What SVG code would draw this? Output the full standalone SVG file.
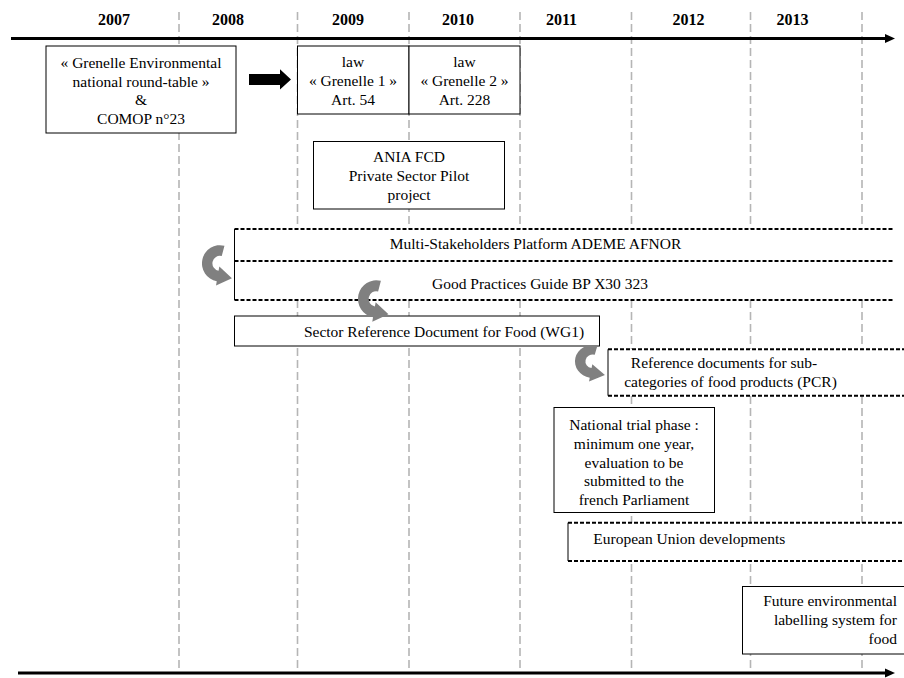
<svg xmlns="http://www.w3.org/2000/svg" xmlns:xlink="http://www.w3.org/1999/xlink" width="904" height="678" viewBox="0 0 904 678">
<style>
.t{font-family:'Liberation Serif','Times New Roman',Times,serif;font-size:15.5px;fill:#000;text-anchor:middle}
.yr{font-weight:bold;font-size:16px}
.l{text-anchor:start}
.r{text-anchor:end}
.box{fill:#fff;stroke:#000;stroke-width:1}
.wf{fill:#fff;stroke:none}
.dash{fill:none;stroke:#000;stroke-width:2;stroke-dasharray:4 2}
.solid{fill:none;stroke:#000;stroke-width:1}
.grid{fill:none;stroke:#b5b5b5;stroke-width:1.6;stroke-dasharray:8 4}
.axis{fill:none;stroke:#000;stroke-width:3}
.curv{fill:#808080}
</style>
<defs>
<path id="curved" d="M21.4,2.58 A17,17 0 1 0 14.05,35.74 L13.35,39.7 L28.5,33 L16.5,22 L15.78,25.89 A7,7 0 1 1 18.8,12.24 Z"/>
</defs>
<rect width="904" height="678" fill="#fff"/>

<g id="timeline">
<g id="gridlines">
<line class="grid" x1="179" y1="12" x2="179" y2="672"/>
<line class="grid" x1="297.5" y1="12" x2="297.5" y2="672"/>
<line class="grid" x1="409" y1="12" x2="409" y2="672"/>
<line class="grid" x1="520" y1="12" x2="520" y2="672"/>
<line class="grid" x1="631.5" y1="12" x2="631.5" y2="672"/>
<line class="grid" x1="750.5" y1="12" x2="750.5" y2="672"/>
<line class="grid" x1="862" y1="12" x2="862" y2="672"/>
</g>
<g id="years">
<text class="t yr" x="114" y="24.5">2007</text>
<text class="t yr" x="228" y="24.5">2008</text>
<text class="t yr" x="348" y="24.5">2009</text>
<text class="t yr" x="458" y="24.5">2010</text>
<text class="t yr" x="561.5" y="24.5">2011</text>
<text class="t yr" x="688.5" y="24.5">2012</text>
<text class="t yr" x="792.5" y="24.5">2013</text>
</g>
<g id="axis-top">
<line class="axis" x1="11" y1="38.5" x2="886" y2="38.5"/>
<polygon points="885,34 895,38.5 885,43" fill="#000"/>
</g>
<g id="axis-bottom">
<line class="axis" x1="18" y1="673" x2="886" y2="673"/>
<polygon points="885,668.5 895,673 885,677.5" fill="#000"/>
</g>
</g>

<g id="grenelle">
<rect class="box" x="46" y="46" width="190" height="87"/>
<text class="t" x="141" y="68">« Grenelle Environmental</text>
<text class="t" x="141" y="86.7">national round-table »</text>
<text class="t" x="141" y="105.4">&amp;</text>
<text class="t" x="141" y="124">COMOP n°23</text>
</g>

<g id="law-grenelle1">
<rect class="box" x="297.5" y="46" width="111.5" height="68"/>
<text class="t" x="353" y="67">law</text>
<text class="t" x="353" y="86">« Grenelle 1 »</text>
<text class="t" x="353" y="105">Art. 54</text>
</g>

<g id="law-grenelle2">
<rect class="box" x="409" y="46" width="111" height="68"/>
<text class="t" x="464.5" y="67">law</text>
<text class="t" x="464.5" y="86">« Grenelle 2 »</text>
<text class="t" x="464.5" y="105">Art. 228</text>
</g>

<g id="ania">
<rect class="box" x="313.5" y="141.5" width="191" height="67.5"/>
<text class="t" x="409" y="162.3">ANIA FCD</text>
<text class="t" x="409" y="181">Private Sector Pilot</text>
<text class="t" x="409" y="200">project</text>
</g>

<g id="platform">
<rect class="wf" x="234.5" y="229" width="659" height="32"/>
<line class="dash" x1="234.5" y1="229" x2="893" y2="229"/>
<line class="solid" x1="234.5" y1="229" x2="234.5" y2="261"/>
<text class="t" x="535.5" y="249">Multi-Stakeholders Platform ADEME AFNOR</text>
</g>

<g id="bp-guide">
<rect class="wf" x="234.5" y="261" width="659" height="39"/>
<line class="dash" x1="234.5" y1="261" x2="893" y2="261"/>
<line class="dash" x1="234.5" y1="300" x2="893" y2="300"/>
<line class="solid" x1="234.5" y1="261" x2="234.5" y2="300"/>
<text class="t" x="540" y="289.3">Good Practices Guide BP X30 323</text>
</g>

<g id="sector-ref">
<rect class="box" x="234.5" y="316" width="365" height="30"/>
<text class="t" x="444" y="336.5">Sector Reference Document for Food (WG1)</text>
</g>

<g id="pcr">
<rect class="wf" x="608" y="349" width="296" height="47"/>
<line class="dash" x1="608" y1="349.3" x2="904" y2="349.3"/>
<line class="dash" x1="608" y1="395.7" x2="904" y2="395.7"/>
<line class="solid" x1="608" y1="349.3" x2="608" y2="395.7"/>
<text class="t" x="724" y="368">Reference documents for sub-</text>
<text class="t" x="730.5" y="387">categories of food products (PCR)</text>
</g>

<g id="trial">
<rect class="box" x="554" y="407.5" width="160.5" height="105"/>
<text class="t" x="634" y="430">National trial phase :</text>
<text class="t" x="634" y="449">minimum one year,</text>
<text class="t" x="634" y="467.5">evaluation to be</text>
<text class="t" x="634" y="486">submitted to the</text>
<text class="t" x="634" y="504.5">french Parliament</text>
</g>

<g id="eu">
<rect class="wf" x="568" y="523" width="336" height="38"/>
<line class="dash" x1="568" y1="522.7" x2="904" y2="522.7"/>
<line class="dash" x1="568" y1="561" x2="904" y2="561"/>
<line class="solid" x1="568" y1="522.7" x2="568" y2="561"/>
<text class="t l" x="593.3" y="544.3">European Union developments</text>
</g>

<g id="future">
<rect class="box" x="742.5" y="586.5" width="170" height="67.5"/>
<text class="t r" x="897" y="606">Future environmental</text>
<text class="t r" x="897" y="625">labelling system for</text>
<text class="t r" x="897" y="644">food</text>
</g>

<g id="connectors">
<polygon id="arrow-grenelle" points="249,74 280,74 280,69.3 291,79.5 280,89.5 280,85 249,85" fill="#000"/>
<use class="curv" xlink:href="#curved" transform="translate(202,243) scale(1.05,1.07)"/>
<use class="curv" xlink:href="#curved" transform="translate(358,278) scale(1.07,1.1)"/>
<use class="curv" xlink:href="#curved" transform="translate(575,343) scale(1.05,0.97)"/>
</g>
</svg>
